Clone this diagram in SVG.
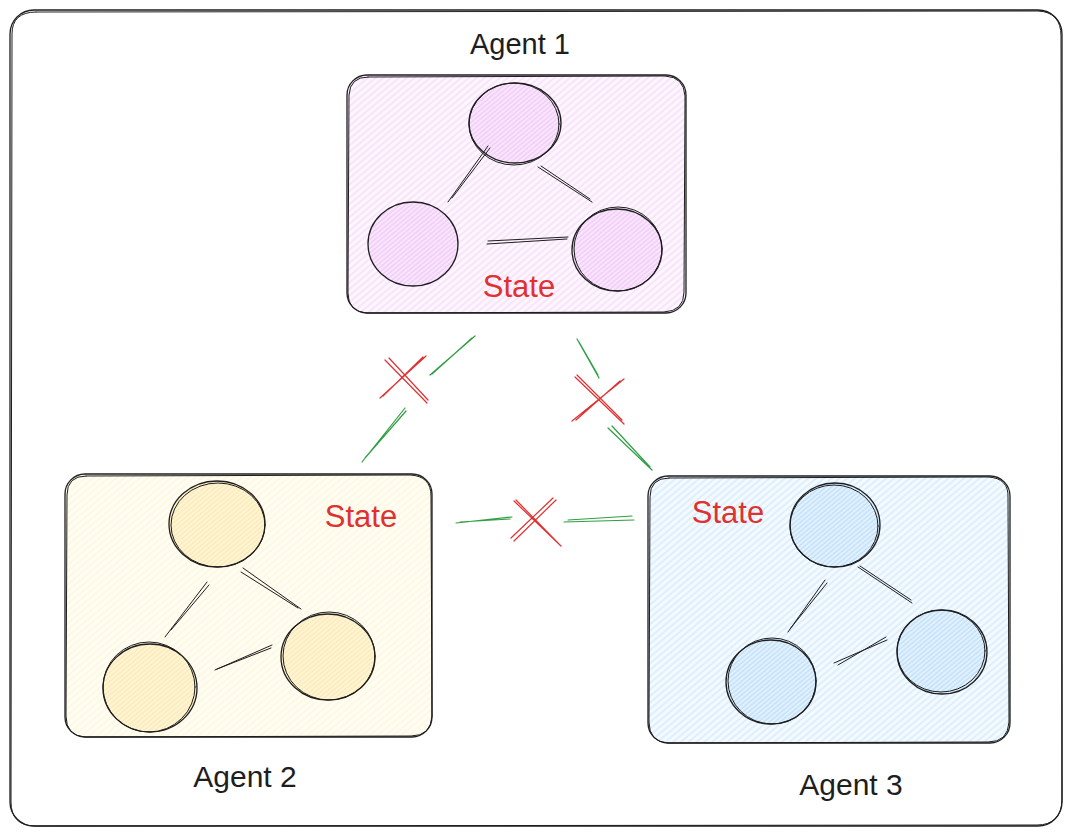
<svg xmlns="http://www.w3.org/2000/svg" width="1071" height="834" viewBox="0 0 1071 834">
<style>
.ink{stroke:#1e1e1e;stroke-width:1.3;stroke-linecap:round;stroke-linejoin:round}
.thin{fill:none;stroke:#1e1e1e;stroke-width:1;stroke-linecap:round}
.ok{fill:none;stroke:#2f9e44;stroke-width:1.2;stroke-linecap:round}
.no{fill:none;stroke:#e03131;stroke-width:1.2;stroke-linecap:round}
.lbl{font-family:"Liberation Sans",Arial,sans-serif;font-size:29px;fill:#1e1e1e}
.st{font-family:"Liberation Sans",Arial,sans-serif;font-size:31px;fill:#e03131}
</style>
<defs>
<pattern id="hP" width="5" height="5" patternUnits="userSpaceOnUse" patternTransform="rotate(-40)"><rect width="5" height="5" fill="#fdf6fe"/><line x1="0" y1="1" x2="5" y2="1" stroke="#f1c8f8" stroke-width="0.8"/></pattern>
<pattern id="hPc" width="3.5" height="3.5" patternUnits="userSpaceOnUse" patternTransform="rotate(-40)"><rect width="3.5" height="3.5" fill="#f9e6fc"/><line x1="0" y1="1" x2="3.5" y2="1" stroke="#ebb8f5" stroke-width="0.8"/></pattern>
<pattern id="hY" width="5" height="5" patternUnits="userSpaceOnUse" patternTransform="rotate(-40)"><rect width="5" height="5" fill="#fffdf4"/><line x1="0" y1="1" x2="5" y2="1" stroke="#fdf1c6" stroke-width="0.8"/></pattern>
<pattern id="hYc" width="3.5" height="3.5" patternUnits="userSpaceOnUse" patternTransform="rotate(-40)"><rect width="3.5" height="3.5" fill="#fef5d6"/><line x1="0" y1="1" x2="3.5" y2="1" stroke="#f9e39f" stroke-width="0.8"/></pattern>
<pattern id="hB" width="5" height="5" patternUnits="userSpaceOnUse" patternTransform="rotate(-40)"><rect width="5" height="5" fill="#f4faff"/><line x1="0" y1="1" x2="5" y2="1" stroke="#bde0fb" stroke-width="0.8"/></pattern>
<pattern id="hBc" width="3.5" height="3.5" patternUnits="userSpaceOnUse" patternTransform="rotate(-40)"><rect width="3.5" height="3.5" fill="#e2f1fd"/><line x1="0" y1="1" x2="3.5" y2="1" stroke="#a8d4f8" stroke-width="0.8"/></pattern>
</defs>
<rect width="1071" height="834" fill="#ffffff"/>

<g id="frame">
<rect x="10" y="10" width="1052" height="816" rx="24" fill="none" class="ink"/>
<path d="M36 12 L1038 11 Q1061 12 1061 36 L1062 800 Q1061 825 1037 825 L34 826 Q11 825 11 802 L12 34 Q12 12 36 12" class="thin"/>
</g>

<g id="agent1">
<text x="520" y="54" text-anchor="middle" class="lbl">Agent 1</text>
<rect x="347" y="75" width="339" height="238" rx="20" fill="url(#hP)" class="ink"/>
<path d="M368 77 L665 76 Q684 77 685 96 L684 292 Q684 311 664 312 L367 313 Q348 312 348 293 L349 95 Q350 77 368 77" class="thin"/>
<ellipse cx="515" cy="123" rx="46" ry="40" fill="url(#hPc)" class="ink"/>
<ellipse cx="514" cy="124" rx="45" ry="41" class="thin"/>
<ellipse cx="413" cy="244" rx="45" ry="42" fill="url(#hPc)" class="ink"/>
<ellipse cx="617" cy="250" rx="45" ry="41" fill="url(#hPc)" class="ink"/>
<ellipse cx="618" cy="249" rx="44" ry="42" class="thin"/>
<path d="M488 146 L448 202 M490 148 L452 198" class="thin"/>
<path d="M538 167 L592 202 M541 166 L590 199" class="thin"/>
<path d="M488 241 L568 237 M487 244 L567 239" class="thin"/>
<text x="519" y="297" text-anchor="middle" class="st">State</text>
</g>

<g id="agent2">
<rect x="65" y="474" width="367" height="263" rx="20" fill="url(#hY)" class="ink"/>
<path d="M86 476 L410 475 Q431 476 431 496 L432 716 Q431 736 411 736 L85 737 Q66 736 66 716 L67 495 Q67 476 86 476" class="thin"/>
<ellipse cx="217" cy="524" rx="48" ry="43" fill="url(#hYc)" class="ink"/>
<ellipse cx="218" cy="525" rx="47" ry="42" class="thin"/>
<ellipse cx="150" cy="688" rx="47" ry="44" fill="url(#hYc)" class="ink"/>
<ellipse cx="149" cy="687" rx="46" ry="45" class="thin"/>
<ellipse cx="328" cy="657" rx="47" ry="43" fill="url(#hYc)" class="ink"/>
<ellipse cx="329" cy="656" rx="46" ry="44" class="thin"/>
<path d="M207 582 L165 637 M209 585 L171 630" class="thin"/>
<path d="M243 568 L301 609 M241 572 L298 608" class="thin"/>
<path d="M215 670 L272 645 M217 669 L271 648" class="thin"/>
<text x="361" y="527" text-anchor="middle" class="st">State</text>
<text x="245" y="787" text-anchor="middle" class="lbl" style="font-size:30px">Agent 2</text>
</g>

<g id="agent3">
<rect x="648" y="476" width="362" height="267" rx="20" fill="url(#hB)" class="ink"/>
<path d="M669 478 L988 477 Q1009 478 1008 498 L1009 722 Q1008 742 988 742 L668 743 Q649 742 649 722 L650 497 Q650 478 669 478" class="thin"/>
<ellipse cx="835" cy="525" rx="45" ry="42" fill="url(#hBc)" class="ink"/>
<ellipse cx="834" cy="526" rx="44" ry="41" class="thin"/>
<ellipse cx="771" cy="682" rx="45" ry="42" fill="url(#hBc)" class="ink"/>
<ellipse cx="772" cy="681" rx="44" ry="43" class="thin"/>
<ellipse cx="942" cy="652" rx="45" ry="42" fill="url(#hBc)" class="ink"/>
<ellipse cx="941" cy="651" rx="44" ry="41" class="thin"/>
<path d="M825 580 L788 632 M827 583 L790 629" class="thin"/>
<path d="M858 567 L912 603 M860 566 L911 600" class="thin"/>
<path d="M834 663 L887 640 M838 665 L886 637" class="thin"/>
<text x="728" y="523" text-anchor="middle" class="st">State</text>
<text x="851" y="795" text-anchor="middle" class="lbl" style="font-size:30px">Agent 3</text>
</g>

<g id="connectors">
<path d="M430 375 L475 336 M432 374 L472 338" class="ok"/>
<path d="M362 462 L405 408 M365 458 L406 411" class="ok"/>
<path d="M385 360 L427 403 M389 358 L428 400 M380 398 L426 356 M383 396 L423 357" class="no"/>
<path d="M577 339 L599 378 M579 342 L598 375" class="ok"/>
<path d="M608 428 L652 470 M612 426 L650 467" class="ok"/>
<path d="M575 377 L624 424 M577 375 L622 420 M572 421 L624 379 M576 420 L620 381" class="no"/>
<path d="M456 523 L512 517 M460 522 L510 519" class="ok"/>
<path d="M564 522 L634 520 M568 520 L632 516" class="ok"/>
<path d="M514 501 L561 546 M516 500 L558 543 M511 538 L553 498 M514 541 L556 500" class="no"/>
</g>
</svg>
